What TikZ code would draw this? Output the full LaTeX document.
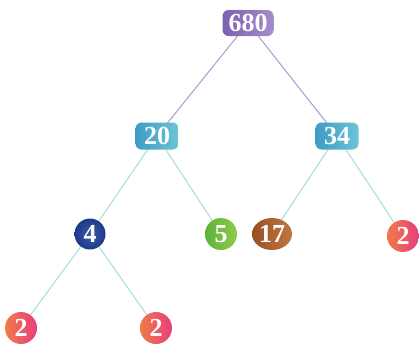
\documentclass[tikz,border=0pt]{standalone}
\usepackage{fontspec}
\setmainfont{Liberation Serif}
\definecolor{purA}{HTML}{7A62B0}
\definecolor{purB}{HTML}{A58CCB}
\definecolor{purEdge}{HTML}{A89AD2}
\definecolor{tealA}{HTML}{3E9CC6}
\definecolor{tealB}{HTML}{6CC4D6}
\definecolor{cyanEdge}{HTML}{A6DCDC}
\definecolor{navy}{HTML}{1E3A88}
\definecolor{navyB}{HTML}{3A5CB0}
\definecolor{grnA}{HTML}{5FB23A}
\definecolor{grnB}{HTML}{8CCB4A}
\definecolor{brnA}{HTML}{9A4E24}
\definecolor{brnB}{HTML}{C07840}
\definecolor{orA}{HTML}{F07A48}
\definecolor{orB}{HTML}{E83E80}
\tikzset{
  lbl/.style={text=white,font=\bfseries\fontsize{26}{26}\selectfont,inner sep=0pt},
  boxP/.style={lbl,rounded corners=6pt,minimum width=51,minimum height=26,left color=purA,right color=purB},
  boxT/.style={lbl,rounded corners=6pt,minimum width=43,minimum height=27,left color=tealA,right color=tealB},
  circN/.style={lbl,circle,minimum size=31,inner color=navyB,outer color=navy},
  circG/.style={lbl,circle,minimum size=32,left color=grnA,right color=grnB},
  ellB/.style={lbl,ellipse,minimum width=40,minimum height=32,inner xsep=0pt,left color=brnA,right color=brnB},
  circO/.style={lbl,circle,minimum size=32,left color=orA,right color=orB},
  pe/.style={draw=purEdge,line width=1pt},
  ce/.style={draw=cyanEdge,line width=1pt}
}
\usetikzlibrary{shapes.geometric}
\begin{document}
\begin{tikzpicture}[x=1pt,y=-1pt]
\useasboundingbox (0,0) rectangle (419,349);
\coordinate (p680) at (248,23);
\coordinate (p20) at (157,136);
\coordinate (p34) at (337,136);
\coordinate (p4) at (90,234);
\coordinate (p5) at (221,234);
\coordinate (p17) at (272,234);
\coordinate (p2r) at (403,236);
\coordinate (p2a) at (21,328);
\coordinate (p2b) at (156,328);
\draw[pe] (p680) -- (p20);
\draw[pe] (p680) -- (p34);
\draw[ce] (p20) -- (p4);
\draw[ce] (p20) -- (p5);
\draw[ce] (p34) -- (p17);
\draw[ce] (p34) -- (p2r);
\draw[ce] (p4) -- (p2a);
\draw[ce] (p4) -- (p2b);
\node[boxP] (n680) at (p680) {680};
\node[boxT] (n20) at (p20) {20};
\node[boxT] (n34) at (p34) {34};
\node[circN] (n4) at (p4) {4};
\node[circG] (n5) at (p5) {5};
\node[ellB] (n17) at (p17) {17};
\node[circO] (n2r) at (p2r) {2};
\node[circO] (n2a) at (p2a) {2};
\node[circO] (n2b) at (p2b) {2};
\end{tikzpicture}
\end{document}
